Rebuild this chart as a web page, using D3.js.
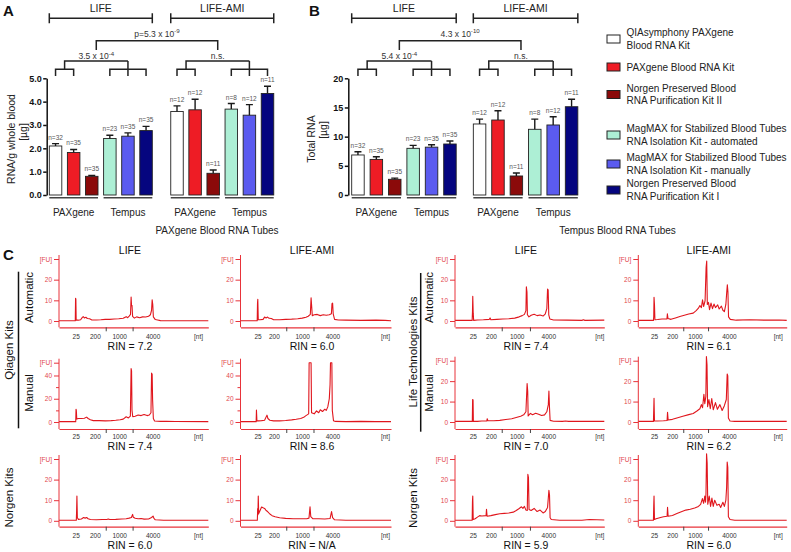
<!DOCTYPE html>
<html><head><meta charset="utf-8">
<script src="https://cdn.jsdelivr.net/npm/d3@7"></script>
<style>body{margin:0;background:#fff}svg text{font-family:"Liberation Sans",Arial,sans-serif}</style>
</head><body>
<svg id="fig" width="791" height="552"></svg>
<script>
// ---------------- DATA ----------------
const cohorts = ["LIFE", "LIFE-AMI"];
const tubeGroups = ["PAXgene", "Tempus"];
const kitLegend = [
  ["QIAsymphony PAXgene", "Blood RNA Kit"],
  ["PAXgene Blood RNA Kit"],
  ["Norgen Preserved Blood", "RNA Purification Kit II"],
  ["MagMAX for Stabilized Blood Tubes", "RNA Isolation Kit - automated"],
  ["MagMAX for Stabilized Blood Tubes", "RNA Isolation Kit - manually"],
  ["Norgen Preserved Blood", "RNA Purification Kit I"]
];
const kitColors = ["#ffffff", "#ee1c25", "#8b0a0a", "#adefd5", "#5b5bef", "#05057f"];
const nLIFE = [32, 35, 35, 23, 35, 35];
const nAMI = [12, 12, 11, 8, 12, 11];

// Panel A: RNA per g whole blood [µg]
const rnaPerGramLIFE = [2.1, 1.82, 0.8, 2.42, 2.52, 2.76];
const rnaPerGramLIFEsem = [0.1, 0.13, 0.04, 0.14, 0.14, 0.18];
const rnaPerGramAMI = [3.58, 3.65, 0.93, 3.68, 3.42, 4.35];
const rnaPerGramAMIsem = [0.24, 0.45, 0.14, 0.24, 0.45, 0.31];
const ticksA = [0, 1, 2, 3, 4, 5];
const statsA = ["p=5.3 x 10^-9", "3.5 x 10^-4", "n.s."];

// Panel B: total RNA [µg]
const totalRnaLIFE = [6.86, 6.1, 2.69, 8.0, 8.2, 8.74];
const totalRnaLIFEsem = [0.54, 0.46, 0.21, 0.5, 0.4, 0.51];
const totalRnaAMI = [12.17, 12.85, 3.26, 11.26, 12.0, 15.13];
const totalRnaAMIsem = [0.83, 1.6, 0.51, 1.74, 1.4, 1.27];
const ticksB = [0, 5, 10, 15, 20];
const statsB = ["4.3 x 10^-10", "5.4 x 10^-4", "n.s."];

// Panel C: electropherograms  [migration position in % of axis, FU]
const ladderTicks = ["25", "200", "500", "1000", "2000", "4000"];
const ladderLabelled = [true, true, false, true, false, true];
const rinValues = ["7.2", "6.0", "7.4", "8.6", "6.0", "N/A", "7.4", "6.1", "7.0", "6.2", "5.9", "6.0"];

const traceQiaAutoLIFE = [[0,0.1],[10.9,0.1],[11.1,11],[11.3,10.6],[11.5,0.4],[13,0.4],[14.5,0.6],[15.5,1.6],[16.2,2.1],[17,1.5],[18,1.8],[19,1.2],[20.5,1.1],[22,0.5],[25,0.5],[28,0.6],[31,0.8],[34,0.8],[37,1],[40,1.1],[43,1.3],[45,2.1],[46,1.6],[47,2.4],[47.9,3.2],[48.3,11.6],[48.6,7.4],[48.9,7.6],[49.3,2.2],[50.5,1.4],[52,2],[54,1.6],[56,2],[58,1.9],[60,2.3],[61.2,3],[62,5.2],[62.4,10.3],[62.8,8],[63.2,2],[64.5,0.7],[66,0.5],[68,0.2],[75,0.1],[100,0.1]];
const traceQiaAutoAMI = [[0,0.1],[11.1,0.1],[11.3,8.7],[11.5,10.5],[11.8,0.6],[13,0.6],[15,0.8],[16,1.9],[17,1.5],[18,1.9],[19,1.3],[20.5,1.2],[22,0.6],[26,0.6],[30,0.8],[34,0.9],[38,1.1],[41,1.4],[43.5,1.8],[45,2.3],[46.4,3.2],[46.9,11.2],[47.3,7],[47.7,2.6],[49,3],[51,3.2],[53,2.6],[55,3],[57,2.8],[59,3],[60.4,3.5],[60.8,8.4],[61.2,8.7],[61.6,3.5],[62.5,0.8],[65,0.5],[70,0.4],[80,0.3],[90,0.4],[96,0.3],[100,0.1]];
const traceQiaManLIFE = [[0,0.3],[11.2,0.3],[11.4,11],[11.6,10],[11.9,2.5],[13,3],[15,3],[17,3.2],[18.5,4.2],[19.5,3],[21,2],[23,1.2],[27,1.2],[31,1],[35,1.2],[38,1.5],[41,2],[43,2.5],[45,4.5],[46.5,3.5],[47.8,5],[48.3,46],[48.6,44],[48.9,10],[49.4,4.5],[51,5],[53,6],[55,5.5],[57,6.5],[59,5.5],[60.5,6],[61.6,8],[62,42],[62.4,41],[62.7,19],[63.2,3],[64,0.8],[68,0.5],[72,0.7],[78,0.4],[100,0.3]];
const traceQiaManAMI = [[0,0.3],[10.4,0.3],[10.6,10.3],[10.9,1],[12,1],[14,1.2],[16,1.5],[17.6,5.9],[18.2,3],[19.5,1.5],[22,1],[26,1],[30,1.3],[34,1.8],[37,2.3],[40,3],[42,4],[43.5,5.5],[45.3,7],[45.6,51],[46.9,51],[47.2,8],[49,7],[50.5,9.5],[52,8],[53,10.5],[54.5,9],[56,11],[57,10],[58,13],[59,20],[59.5,32],[59.8,51],[60.7,51],[61,10],[61.8,1],[63,0.5],[70,0.3],[80,0.5],[90,0.3],[100,0.3]];
const traceNorQiaLIFE = [[0,0.3],[11.6,0.3],[11.8,5],[12,12],[12.3,1.5],[13,0.7],[15,0.9],[16.5,1.6],[17.5,1.3],[18.5,1.6],[19.5,1],[21,0.6],[25,0.5],[29,0.6],[32,0.6],[33,0.9],[34,0.6],[38,0.7],[42,0.9],[45,1],[47,1.3],[48.5,1.6],[49.3,3.1],[49.8,1.7],[51,1.2],[53,1],[55,1.1],[57,0.8],[60,0.9],[62,1.6],[63,2.3],[63.6,1.2],[64.5,0.5],[70,0.3],[100,0.3]];
const traceNorQiaAMI = [[0,0.3],[11.2,0.3],[11.4,6],[11.6,3],[11.8,12],[12.1,3.5],[13,5],[14,6.7],[15,6.3],[16,6],[17,5],[18,4.5],[19.5,3.3],[21,2.5],[23,2],[26,1.5],[30,1.2],[35,1],[40,1],[44,1],[45.5,1.3],[46.2,6.8],[46.7,2],[48,1],[52,1],[56,0.9],[59.5,1.1],[60.5,4.5],[61.2,1.5],[62.5,0.5],[70,0.3],[100,0.3]];
const traceLtAutoLIFE = [[0,0.3],[11.5,0.3],[11.7,4.5],[11.9,12],[12.2,3.8],[12.5,0.3],[15,0.5],[19,0.6],[23,0.8],[23.5,1.5],[24,0.6],[28,0.8],[32,1],[36,1.1],[40,1.4],[43,2],[45,2.6],[46.5,3.2],[47.5,5],[47.8,16.5],[48.2,14],[48.5,3],[49.5,2],[51,2.8],[53,3.3],[55,2.6],[57,2.9],[59,2.4],[60.5,3.5],[61.5,6],[62,15.5],[62.4,15],[62.8,3],[63.5,1],[66,0.5],[75,0.4],[85,0.3],[86,0.6],[87,0.3],[100,0.4]];
const traceLtAutoAMI = [[0,0.3],[10.2,0.3],[10.4,2],[10.6,11.5],[10.9,8],[11.2,0.6],[13,0.7],[16,1],[19.3,1],[19.6,3.5],[20,1.2],[22,0.8],[25,1.5],[28,2.2],[31,2.8],[34,3.4],[37,3.8],[39,5],[40.5,6.2],[41.5,7.5],[42.5,6.5],[43.3,10.3],[44,7],[45,9.8],[45.7,26],[46.1,29],[46.5,8],[47.3,9],[48,5.5],[49,8.7],[50,6],[51,8.2],[52,6.5],[53.5,7.8],[54.5,5.8],[56,7.2],[57,5.2],[58,4.5],[59,8],[59.6,14],[60,17.5],[60.4,14],[60.8,2],[62,0.8],[66,0.4],[75,0.6],[85,0.4],[95,0.5],[100,0.3]];
const traceLtManLIFE = [[0,0.3],[11.6,0.3],[11.8,11],[12.1,10.8],[12.3,0.3],[15,0.3],[18,0.5],[21.3,0.5],[21.6,1.6],[22,0.6],[26,0.6],[30,0.8],[34,1.2],[38,1.6],[41,2.2],[44,2.8],[46,3.5],[47.5,5],[48.3,18.8],[48.7,15],[49,3],[50.5,4.2],[52,3.6],[54,4.3],[56,3.8],[58,3.2],[60,3.5],[61.5,5],[62.5,8.5],[62.9,15.2],[63.3,7],[63.7,0.8],[66,0.4],[72,0.3],[74,0.5],[76,0.3],[100,0.3]];
const traceLtManAMI = [[0,0.3],[10.2,0.3],[10.4,6],[10.6,11.6],[10.9,0.5],[13,0.5],[17,0.6],[19.4,0.7],[19.7,4.8],[20.1,1],[23,1.3],[26,2],[30,2.8],[34,3.6],[37,4.2],[39.5,5.4],[41.5,6.5],[42.5,8.5],[43.3,7],[44.2,13.5],[44.8,9],[45.5,12.5],[45.9,32],[46.3,28],[46.7,7.5],[47.6,11],[48.5,6.5],[49.5,11.5],[50.5,6],[52,9.5],[53.3,6.2],[55,8.5],[56.5,5.6],[58,8],[59.3,11],[59.9,23.5],[60.3,22.5],[60.7,2],[61.8,0.5],[65,0.3],[100,0.3]];
const traceNorLtLIFE = [[0,0.3],[11.5,0.3],[11.7,9.5],[11.9,12],[12.2,0.6],[13.5,1],[15,1.8],[16.5,2.5],[18,2.3],[20.8,2.5],[21.1,5.6],[21.5,2.2],[24,2.5],[27,3],[30,3.4],[33,3.6],[36,3.8],[39,4.2],[41,5],[43,6],[44.5,6.8],[45.5,6],[46.5,7],[47.5,5.2],[48.4,5],[48.8,22.6],[49.2,21],[49.6,5.5],[51,5],[53,6],[55,4.5],[57,5.2],[59,3.8],[60.5,4.5],[62,6.5],[62.9,14.8],[63.3,12.5],[63.7,1.5],[64.5,0.6],[70,0.3],[85,0.3],[90,0.6],[100,0.4]];
const traceNorLtAMI = [[0,0.3],[10.2,0.3],[10.4,7.6],[10.6,12],[10.9,0.6],[12,1],[15,1.6],[17,2],[19.4,2.2],[19.7,6.5],[20.1,2.2],[23,2.6],[26,3.5],[29,4.4],[32,5.2],[35,5.6],[38,6.2],[40.5,7],[42,8],[43.2,10.8],[44,8.5],[44.8,12],[45.3,9],[45.6,13],[46,32.5],[46.4,28],[46.8,8],[47.8,12],[48.7,7],[49.6,11],[50.5,7],[51.5,10],[53,7.5],[54.5,8],[55.5,6.5],[57,9],[58,7],[59,10],[59.5,16],[59.9,28.5],[60.3,26],[60.7,2],[61.8,0.6],[65,0.3],[100,0.3]];

// ---------------- LAYOUT ----------------
const svg = d3.select("#fig");
const FONT_DARK = "#222";
const barW = 12.5;

function statText(g, x, y, s, size) {
  const parts = s.split("^");
  const t = g.append("text").attr("x", x).attr("y", y).attr("text-anchor", "middle")
    .attr("font-size", size).attr("fill", "#333");
  t.append("tspan").text(parts[0]);
  if (parts[1]) t.append("tspan").attr("dy", -3.5).attr("font-size", size * 0.72).text(parts[1]);
}

function drawBarPanel(cfg) {
  const g = svg.append("g");
  const y = d3.scaleLinear().domain([0, cfg.yMax]).range([195, 78.3]);
  const slot = d3.scaleLinear().domain([0, 1]).range([cfg.left, cfg.left + cfg.step]);
  const ax = g.append("g").attr("transform", `translate(${cfg.axisX},0)`)
    .call(d3.axisLeft(y).tickValues(cfg.ticks).tickSize(3.5).tickSizeOuter(0).tickPadding(1.5));
  ax.selectAll("path,line").attr("stroke", "#111").attr("stroke-width", 1.5);
  ax.selectAll("text").attr("font-size", 9).attr("font-weight", "bold").attr("fill", "#111")
    .attr("font-family", "Liberation Sans, Arial, sans-serif");
  cfg.yTitle.forEach((t, i) => {
    g.append("text").attr("transform", `translate(${cfg.yTitleX[i]},${cfg.yTitleY[i]}) rotate(-90)`)
      .attr("text-anchor", "middle").attr("dy", "0.35em").attr("font-size", 10.5).attr("fill", FONT_DARK).text(t);
  });
  const groups = [
    { vals: cfg.lifeVals, sem: cfg.lifeSem, n: nLIFE, off: 0, title: cohorts[0] },
    { vals: cfg.amiVals, sem: cfg.amiSem, n: nAMI, off: cfg.amiOffset, title: cohorts[1] }
  ];
  const yCoh = 18.3, yP = 40.7, yPleg = 50, yTube = 61, ySub = 69.3, yLeg = 76;
  const mids = [];
  groups.forEach((c, ci) => {
    const bx = i => slot(c.off + i);
    const cx = i => bx(i) + barW / 2;
    const idx = c.vals.map((v, i) => i);
    g.selectAll(null).data(idx).join("rect")
      .attr("x", i => bx(i)).attr("y", i => y(c.vals[i])).attr("width", barW)
      .attr("height", i => 195 - y(c.vals[i])).attr("fill", i => kitColors[i])
      .attr("stroke", "#222").attr("stroke-width", 0.9);
    g.selectAll(null).data(idx).join("path")
      .attr("d", i => `M${cx(i)},${y(c.vals[i])}V${y(c.vals[i] + c.sem[i])}M${cx(i) - 3.5},${y(c.vals[i] + c.sem[i])}H${cx(i) + 3.5}`)
      .attr("stroke", "#1a1a1a").attr("stroke-width", 1.4).attr("fill", "none");
    g.selectAll(null).data(idx).join("text")
      .attr("x", i => cx(i)).attr("y", i => y(c.vals[i] + c.sem[i]) - 4)
      .attr("text-anchor", "middle").attr("font-size", 6.5).attr("fill", "#555")
      .text(i => "n=" + c.n[i]);
    [[0, 2], [3, 5]].forEach((r, k) => {
      g.append("line").attr("x1", bx(r[0])).attr("x2", bx(r[1]) + barW).attr("y1", 197.8).attr("y2", 197.8)
        .attr("stroke", "#444").attr("stroke-width", 1.4);
      g.append("text").attr("x", (bx(r[0]) + bx(r[1]) + barW) / 2).attr("y", 215.5)
        .attr("text-anchor", "middle").attr("font-size", 10).attr("fill", FONT_DARK).text(tubeGroups[k]);
    });
    const L = bx(0), R = bx(5) + barW;
    g.append("path").attr("d", `M${L},${yCoh - 5}V${yCoh + 5}M${L},${yCoh}H${R}M${R},${yCoh - 5}V${yCoh + 5}`)
      .attr("stroke", "#222").attr("stroke-width", 1.5).attr("fill", "none");
    g.append("text").attr("x", (L + R) / 2).attr("y", 12).attr("text-anchor", "middle")
      .attr("font-size", 10.5).attr("fill", FONT_DARK).text(c.title);
    const pxm = (cx(0) + cx(1)) / 2;
    const d = `M${cx(0)},${yLeg}V${ySub}H${cx(1)}V${yLeg}M${pxm},${ySub}V${yTube}H${cx(4)}` +
      `M${cx(3)},${yLeg}V${ySub}H${cx(5)}V${yLeg}M${cx(4)},${yLeg}V${yTube}` +
      `M${pxm},${yTube}V${ySub}`;
    g.append("path").attr("d", d).attr("stroke", "#222").attr("stroke-width", 1.5).attr("fill", "none");
    const mid = (pxm + cx(4)) / 2;
    mids.push(mid);
    statText(g, mid, 59, cfg.stats[ci + 1], 8.5);
  });
  g.append("path").attr("d", `M${mids[0]},${yPleg}V${yP}H${mids[1]}V${yPleg}`)
    .attr("stroke", "#222").attr("stroke-width", 1.5).attr("fill", "none");
  statText(g, (mids[0] + mids[1]) / 2, 36.5, cfg.stats[0], 8.5);
  g.append("text").attr("x", cfg.tubeX).attr("y", 233.5).attr("text-anchor", "middle")
    .attr("font-size", 10).attr("fill", FONT_DARK).text(cfg.tubeTitle);
  g.append("text").attr("x", cfg.letterX).attr("y", 16).attr("font-size", 15)
    .attr("font-weight", "bold").attr("fill", "#111").text(cfg.letter);
}

drawBarPanel({
  letter: "A", letterX: 3, yMax: 5, ticks: ticksA, axisX: 46.7, left: 49.3, step: 18.1, amiOffset: 6.71,
  lifeVals: rnaPerGramLIFE, lifeSem: rnaPerGramLIFEsem, amiVals: rnaPerGramAMI, amiSem: rnaPerGramAMIsem,
  stats: statsA, yTitle: ["RNA/g whole blood", "[µg]"], yTitleX: [11, 23.5], yTitleY: [139, 132],
  tubeTitle: "PAXgene Blood RNA Tubes", tubeX: 217
});
drawBarPanel({
  letter: "B", letterX: 309, yMax: 20, ticks: ticksB, axisX: 348.3, left: 351.7, step: 18.4, amiOffset: 6.61,
  lifeVals: totalRnaLIFE, lifeSem: totalRnaLIFEsem, amiVals: totalRnaAMI, amiSem: totalRnaAMIsem,
  stats: statsB, yTitle: ["Total RNA", "[µg]"], yTitleX: [311, 323.5], yTitleY: [139, 130],
  tubeTitle: "Tempus Blood RNA Tubes", tubeX: 617.5
});

// legend
const legendY = [39, 67, 94.5, 135, 164, 190];
const lg = svg.append("g");
kitLegend.forEach((lines, i) => {
  lg.append("rect").attr("x", 607).attr("y", legendY[i] - 4).attr("width", 13).attr("height", 8)
    .attr("fill", kitColors[i]).attr("stroke", "#222").attr("stroke-width", 1);
  lines.forEach((t, j) => {
    lg.append("text").attr("x", 626.5).attr("y", legendY[i] + 3.6 + (j - (lines.length - 1) / 2) * 12.3)
      .attr("font-size", 10).attr("fill", FONT_DARK).text(t);
  });
});

// ---------------- PANEL C ----------------
const AXIS_RED = "#e8333a", TEXT_RED = "#e2474c", TRACE_RED = "#e0161d";
const colX = [[59, 208.3], [240.5, 391], [455, 604.3], [638.3, 786.7]];
const colTickPct = [
  [11.2, 24, 31.3, 40.3, 49.3, 62.7],
  [11.3, 22.2, 30.4, 41, 48.5, 61.1],
  [11.9, 24.1, 31.3, 41.3, 50.2, 62.5],
  [10.6, 22.9, 30.3, 38.2, 47, 61.1]
];
const colNtPct = [93.5, 96.3, 97, 94.3];
const rowGeom = [
  { zeroY: 321, axisY: 327.3, labelY: 339.3, rinY: 350.3 },
  { zeroY: 422, axisY: 429, labelY: 439.3, rinY: 449.6 },
  { zeroY: 520.8, axisY: 526.7, labelY: 538.3, rinY: 549.3 }
];
const epgPanels = [
  { col: 0, row: 0, trace: traceQiaAutoLIFE, fuMax: 30, topY: 259, ticks: [0, 10, 20], minor: [] },
  { col: 1, row: 0, trace: traceQiaAutoAMI, fuMax: 30, topY: 259, ticks: [0, 10, 20], minor: [] },
  { col: 0, row: 1, trace: traceQiaManLIFE, fuMax: 51, topY: 362.7, ticks: [0, 20, 40], minor: [10, 30] },
  { col: 1, row: 1, trace: traceQiaManAMI, fuMax: 51, topY: 362.7, ticks: [0, 20, 40], minor: [10, 30] },
  { col: 0, row: 2, trace: traceNorQiaLIFE, fuMax: 30, topY: 459, ticks: [0, 10, 20], minor: [] },
  { col: 1, row: 2, trace: traceNorQiaAMI, fuMax: 30, topY: 459, ticks: [0, 10, 20], minor: [] },
  { col: 2, row: 0, trace: traceLtAutoLIFE, fuMax: 30, topY: 259, ticks: [0, 10, 20], minor: [] },
  { col: 3, row: 0, trace: traceLtAutoAMI, fuMax: 30, topY: 259, ticks: [0, 10, 20], minor: [] },
  { col: 2, row: 1, trace: traceLtManLIFE, fuMax: 30, topY: 360.7, ticks: [0, 10, 20], minor: [] },
  { col: 3, row: 1, trace: traceLtManAMI, fuMax: 30, topY: 360.7, ticks: [0, 10, 20], minor: [] },
  { col: 2, row: 2, trace: traceNorLtLIFE, fuMax: 30, topY: 459, ticks: [0, 10, 20], minor: [] },
  { col: 3, row: 2, trace: traceNorLtAMI, fuMax: 30, topY: 459, ticks: [0, 10, 20], minor: [] }
];

epgPanels.forEach((p, pi) => {
  const g = svg.append("g");
  const [x0, x1] = colX[p.col];
  const rg = rowGeom[p.row];
  const x = d3.scaleLinear().domain([0, 100]).range([x0, x1]);
  const y = d3.scaleLinear().domain([0, p.fuMax]).range([rg.zeroY, p.topY]);
  g.append("path").datum(p.trace)
    .attr("d", d3.line().x(d => x(d[0])).y(d => y(d[1])))
    .attr("fill", "none").attr("stroke", TRACE_RED).attr("stroke-width", 1.1).attr("stroke-linejoin", "round");
  const ya = g.append("g").attr("transform", `translate(${x0},0)`)
    .call(d3.axisLeft(y).tickValues(p.ticks.concat([p.fuMax])).tickSize(5).tickSizeOuter(0).tickPadding(2)
      .tickFormat(d => d === p.fuMax ? "[FU]" : d));
  ya.select(".domain").attr("d", `M0,${p.topY - 4}V${rg.axisY}`);
  ya.selectAll("path,line").attr("stroke", AXIS_RED).attr("stroke-width", 1);
  ya.selectAll("text").attr("fill", TEXT_RED).attr("font-size", 6.5).attr("font-family", "Liberation Sans, Arial, sans-serif");
  if (p.minor.length) {
    const ym = g.append("g").attr("transform", `translate(${x0},0)`)
      .call(d3.axisLeft(y).tickValues(p.minor).tickSize(3).tickFormat(""));
    ym.select(".domain").remove();
    ym.selectAll("line").attr("stroke", AXIS_RED);
  }
  const tp = colTickPct[p.col];
  const xa = g.append("g").attr("transform", `translate(0,${rg.axisY})`)
    .call(d3.axisBottom(x).tickValues(tp.filter((d, i) => ladderLabelled[i])).tickSize(0).tickSizeOuter(0)
      .tickFormat(d => ladderTicks[tp.indexOf(d)]));
  xa.select(".domain").attr("stroke", AXIS_RED).attr("stroke-width", 1.2);
  xa.selectAll("text").attr("fill", "#333").attr("font-size", 6.5).attr("dy", null)
    .attr("y", rg.labelY - rg.axisY).attr("font-family", "Liberation Sans, Arial, sans-serif");
  const xm = g.append("g").attr("transform", `translate(0,${rg.axisY})`)
    .call(d3.axisBottom(x).tickValues(tp.filter((d, i) => !ladderLabelled[i])).tickSize(4).tickFormat(""));
  xm.select(".domain").remove();
  xm.selectAll("line").attr("stroke", "#444");
  g.append("text").attr("x", x(colNtPct[p.col])).attr("y", rg.labelY).attr("text-anchor", "middle")
    .attr("font-size", 6.5).attr("fill", "#333").text("[nt]");
  g.append("text").attr("x", x0 + 0.475 * (x1 - x0)).attr("y", rg.rinY).attr("text-anchor", "middle")
    .attr("font-size", 10.5).attr("fill", "#111").text("RIN = " + rinValues[pi]);
});

[0, 1, 2, 3].forEach(c => {
  const [x0, x1] = colX[c];
  svg.append("text").attr("x", x0 + 0.475 * (x1 - x0)).attr("y", 254).attr("text-anchor", "middle")
    .attr("font-size", 10.5).attr("fill", "#111").text(cohorts[c % 2]);
});
svg.append("text").attr("x", 3).attr("y", 259.5).attr("font-size", 15).attr("font-weight", "bold").attr("fill", "#111").text("C");

const sideLabels = [
  { t: "Qiagen Kits", x: 9, y: 350 }, { t: "Automatic", x: 28.5, y: 297.5 }, { t: "Manual", x: 28.5, y: 393 },
  { t: "Norgen Kits", x: 9, y: 497.5 },
  { t: "Life Technologies Kits", x: 412.5, y: 352 }, { t: "Automatic", x: 428.5, y: 297.5 }, { t: "Manual", x: 428.5, y: 393 },
  { t: "Norgen Kits", x: 412.5, y: 498 }
];
sideLabels.forEach(s => {
  svg.append("text").attr("transform", `translate(${s.x},${s.y}) rotate(-90)`).attr("text-anchor", "middle")
    .attr("dy", "0.35em").attr("font-size", 11.5).attr("fill", "#111").text(s.t);
});
svg.append("line").attr("x1", 18.5).attr("x2", 18.5).attr("y1", 271.7).attr("y2", 428.3).attr("stroke", "#111").attr("stroke-width", 1.5);
svg.append("line").attr("x1", 420.7).attr("x2", 420.7).attr("y1", 273).attr("y2", 431.7).attr("stroke", "#111").attr("stroke-width", 1.5);
</script>
</body></html>
